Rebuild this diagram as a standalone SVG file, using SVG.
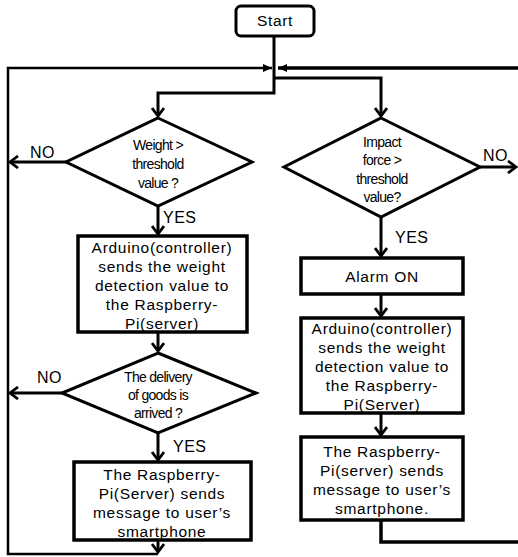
<svg xmlns="http://www.w3.org/2000/svg" width="518" height="557" viewBox="0 0 518 557">
<defs>
<style>
.shape{fill:#fff;stroke:#000;stroke-width:3}
.box{fill:#fff;stroke:#000;stroke-width:3.5}
.line{fill:none;stroke:#000;stroke-width:3}
.t{font-family:"Liberation Sans",Arial,sans-serif;font-size:15.5px;fill:#000;text-anchor:middle;letter-spacing:0.7px}
.d{font-family:"Liberation Sans",Arial,sans-serif;font-size:14px;fill:#000;text-anchor:middle;letter-spacing:-0.7px}
.l{font-family:"Liberation Sans",Arial,sans-serif;font-size:16px;fill:#000;letter-spacing:0.5px}
</style>
<marker id="chev" viewBox="0 0 12 14" markerWidth="12" markerHeight="14" refX="10" refY="7" orient="auto" markerUnits="userSpaceOnUse">
<path d="M2,1 L10,7 L2,13" fill="none" stroke="#000" stroke-width="2.8"/>
</marker>
<marker id="tri" viewBox="0 0 10 10" markerWidth="10" markerHeight="10" refX="9" refY="5" orient="auto" markerUnits="userSpaceOnUse">
<path d="M0,1 L9,5 L0,9 Z" fill="#000"/>
</marker>
</defs>
<rect width="518" height="557" fill="#fff"/>
<g id="connectors">
<polyline class="line" points="274,36 274,93 158,93 158,116" marker-end="url(#chev)"/>
<polyline class="line" points="274,78 381,78 381,116" marker-end="url(#chev)"/>
<polyline class="line" points="158,541 158,552" marker-end="url(#chev)"/>
<polyline class="line" style="stroke-width:2.5" points="158,554 8,554 8,68 272,68" marker-end="url(#tri)"/>
<polyline class="line" style="stroke-width:3.5" points="381,520 381,542 522,542 522,68 278,68" marker-end="url(#tri)"/>
<line class="line" x1="66" y1="162" x2="10" y2="162" marker-end="url(#chev)"/>
<line class="line" x1="62" y1="393" x2="10" y2="393" marker-end="url(#chev)"/>
<line class="line" x1="480" y1="167" x2="516" y2="167" marker-end="url(#chev)"/>
<line class="line" x1="158" y1="206" x2="158" y2="234" marker-end="url(#chev)"/>
<line class="line" x1="158" y1="332" x2="158" y2="351" marker-end="url(#chev)"/>
<line class="line" x1="158" y1="433" x2="158" y2="460" marker-end="url(#chev)"/>
<line class="line" x1="381" y1="217" x2="381" y2="256" marker-end="url(#chev)"/>
<line class="line" x1="381" y1="294" x2="381" y2="316" marker-end="url(#chev)"/>
<line class="line" x1="381" y1="413" x2="381" y2="435" marker-end="url(#chev)"/>
<text class="l" x="30" y="158">NO</text>
<text class="l" x="37" y="383">NO</text>
<text class="l" x="483" y="161">NO</text>
<text class="l" x="163" y="223">YES</text>
<text class="l" x="173" y="452">YES</text>
<text class="l" x="395" y="243">YES</text>
</g>
<g id="start">
<rect class="shape" x="236" y="6" width="78" height="30" rx="5"/>
<text class="t" x="275" y="26">Start</text>
</g>
<g id="weight">
<polygon class="shape" points="158,118 252,162 158,206 66,162"/>
<text class="d" x="158" y="150">Weight &gt;</text>
<text class="d" x="158" y="169">threshold</text>
<text class="d" x="158" y="188">value ?</text>
</g>
<g id="send1">
<rect class="box" x="78" y="236" width="169" height="96"/>
<text class="t" x="162" y="252.5">Arduino(controller)</text>
<text class="t" x="162" y="271.5">sends the weight</text>
<text class="t" x="162" y="290.5">detection value to</text>
<text class="t" x="162" y="309.5">the Raspberry-</text>
<text class="t" x="162" y="328.5">Pi(server)</text>
</g>
<g id="delivery">
<polygon class="shape" points="158,353 256,393 158,433 62,393"/>
<text class="d" x="158" y="382">The delivery</text>
<text class="d" x="158" y="400">of goods is</text>
<text class="d" x="158" y="418">arrived ?</text>
</g>
<g id="message1">
<rect class="box" x="74" y="462" width="177" height="78"/>
<text class="t" x="162" y="480">The Raspberry-</text>
<text class="t" x="162" y="499">Pi(Server) sends</text>
<text class="t" x="162" y="518">message to user’s</text>
<text class="t" x="162" y="537">smartphone</text>
</g>
<g id="impact">
<polygon class="shape" points="381,118 480,167 381,217 284,167"/>
<text class="d" x="382" y="147">Impact</text>
<text class="d" x="382" y="165">force &gt;</text>
<text class="d" x="382" y="184">threshold</text>
<text class="d" x="382" y="202">value?</text>
</g>
<g id="alarm">
<rect class="box" x="301" y="258" width="162" height="36"/>
<text class="t" x="382" y="282">Alarm ON</text>
</g>
<g id="send2">
<rect class="box" x="301" y="318" width="162" height="95"/>
<text class="t" x="382" y="334">Arduino(controller)</text>
<text class="t" x="382" y="353">sends the weight</text>
<text class="t" x="382" y="372">detection value to</text>
<text class="t" x="382" y="391">the Raspberry-</text>
<text class="t" x="382" y="410">Pi(Server)</text>
</g>
<g id="message2">
<rect class="box" x="301" y="437" width="162" height="83"/>
<text class="t" x="382" y="457">The Raspberry-</text>
<text class="t" x="382" y="476">Pi(server) sends</text>
<text class="t" x="382" y="495">message to user’s</text>
<text class="t" x="382" y="514">smartphone.</text>
</g>
</svg>
